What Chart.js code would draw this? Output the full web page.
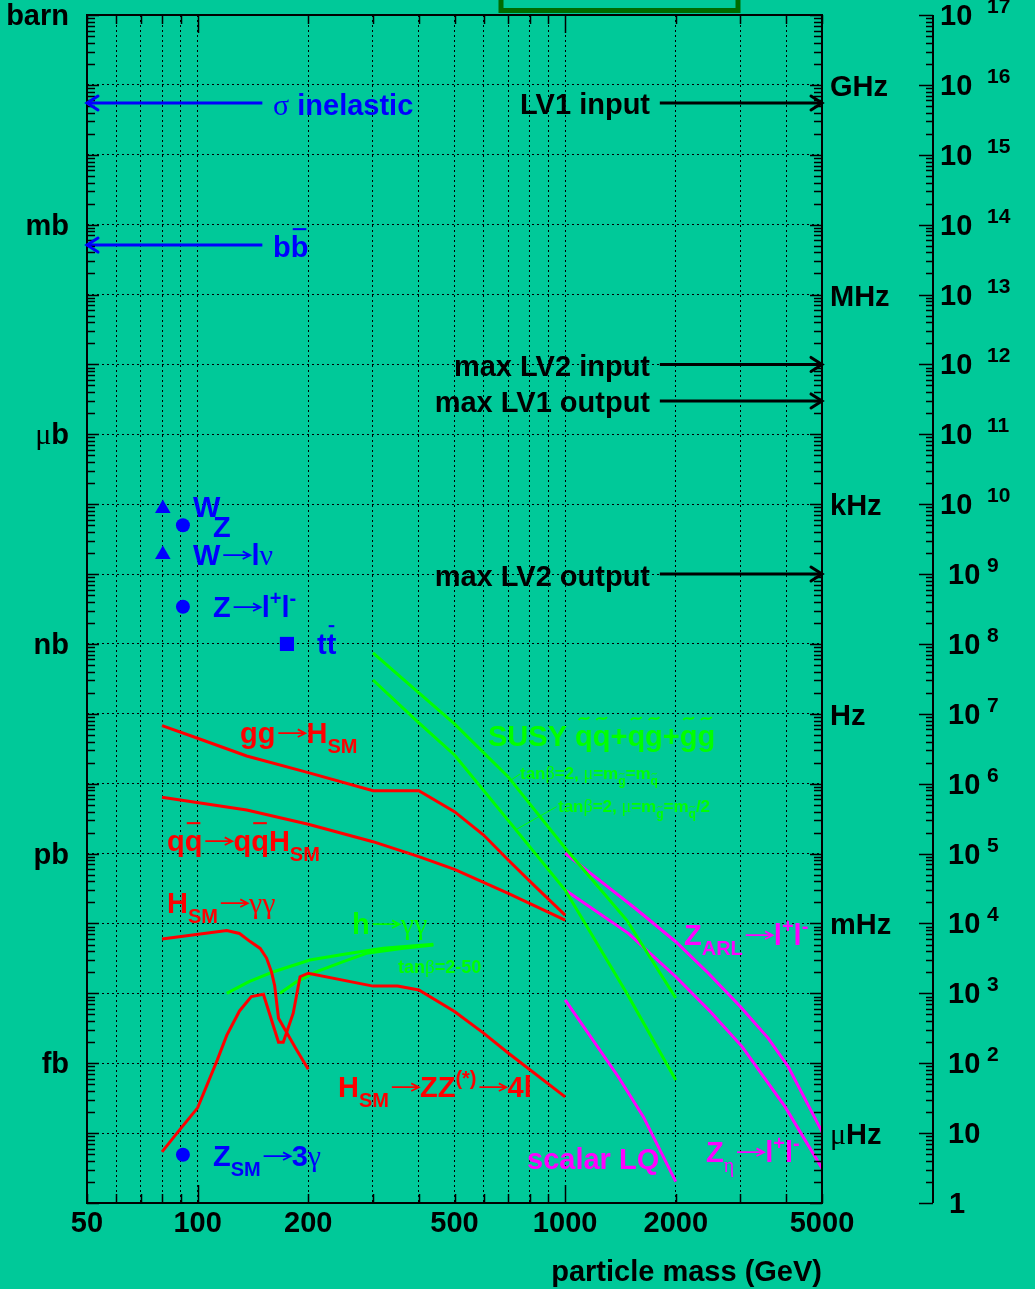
<!DOCTYPE html>
<html>
<head>
<meta charset="utf-8">
<script src="https://cdn.jsdelivr.net/npm/chart.js@4.4.1/dist/chart.umd.min.js"></script>
<style>
  html,body{margin:0;padding:0;background:#00c999;overflow:hidden}
  canvas{display:block}
</style>
</head>
<body>
<canvas id="c" width="1035" height="1289"></canvas>
<script>
/* LHC cross sections / trigger rates vs particle mass */
const BG='#00c999', BLUE='#0000ff', RED='#ff0000', GREEN='#00ff00', MAG='#ff00ff', INK='#000000';
const SANS='"Liberation Sans", Arial, Helvetica, sans-serif';
const SERIF='"Liberation Serif", "DejaVu Serif", "Times New Roman", serif';

// axes
const massMin=50, massMax=5000;
const massLabels=[50,100,200,500,1000,2000,5000];
const massGrid=[60,70,80,90,100,200,300,400,500,600,700,800,900,1000,2000,3000,4000];
const fbMin=1e-2, fbMax=1e15;                 // cross section axis, in fb
const unitNames=['barn','mb','μb','nb','pb','fb'];
const unitValues=[1e15,1e12,1e9,1e6,1e3,1];
const rateFactor=100;                          // right axis value = sigma[fb] * 100
const rateExponents=[0,1,2,3,4,5,6,7,8,9,10,11,12,13,14,15,16,17];
const freqNames=['GHz','MHz','kHz','Hz','mHz','μHz'];
const freqValues=[1e16,1e13,1e10,1e7,1e4,1e1]; // right axis units

// standard model points
const smMass=[80.4,91.2,80.4,91.2,175,91.2];
const smXsec=[8.7e7,5.0e7,1.9e7,3.4e6,1.0e6,0.049];
const smStyle=['triangle','circle','triangle','circle','rect','circle'];
const smRadius=[9,7,9,7,10,7];

// reference arrows (fb)
const beamNames=['σ inelastic','bb̄'];
const beamLevels=[5.5e13,5.1e11];
const trigNames=['LV1 input','max LV2 input','max LV1 output','max LV2 output'];
const trigLevels=[5.5e13,1.0e10,3.0e9,1.0e7];

// Higgs production
const ggH_m=[80,100,136,200,300,400,500,600,700,830,1000];
const ggH_s=[67600,44700,24900,14400,7940,7940,3980,1845,809,336,132];
const qqH_m=[80,136,200,300,400,500,700,1000];
const qqH_s=[6390,4210,2630,1480,903,596,270,112];
// Higgs decays
const Hgg_m=[80,120,130,139,148,154,159,162,166,175,186,200];
const Hgg_s=[60,79,72,55,44,32,20,13,4.4,2.7,1.55,0.82];
const HZZ_m=[80,90,100,113,120,130,140,151,166,171,182,190,200,300,350,400,500,600,700,1000];
const HZZ_s=[0.054,0.117,0.23,1.1,2.5,5.6,9.0,9.7,2.0,2.0,5.2,17.3,19.4,12.7,12.7,11.2,5.5,2.7,1.4,0.33];
// MSSM h -> gamma gamma, tan beta 2..50
const hggA_m=[120,138,161,202,260,320,438];
const hggA_s=[10,14.7,20.4,30,37.4,44.2,50.4];
const hggB_m=[167.5,186,211,249,288,363,438];
const hggB_s=[10,14.7,20.4,28.4,37.4,44.2,49.3];
// SUSY squark/gluino
const susyA_m=[300,400,500,700,1000,1470,2000];
const susyA_s=[7.43e5,1.99e5,7.16e4,1.25e4,1202,112,8.59];
const susyB_m=[300,400,500,700,1000,1470,2000];
const susyB_s=[3.05e5,7.4e4,2.58e4,2990,301,10.1,0.575];
const leadA_m=[754,708], leadA_s=[13770,11040];
const leadB_m=[948,738], leadB_s=[4690,2228];
// exotics
const zarl_m=[1000,1157,1550,2000,2453,3000,3571,4048,5000];
const zarl_s=[1010,551,165,54.8,19.4,6.44,2.27,0.891,0.105];
const zeta_m=[1000,1486,2000,2486,3030,3965,5000];
const zeta_s=[301,72.3,17.3,5.47,1.73,0.239,0.0314];
const lq_m=[1000,1395,1632,2000];
const lq_s=[8.04,0.641,0.172,0.0202];

const pts=(m,s)=>m.map((v,i)=>({x:v,y:s[i]}));
const curve=(m,s,c,w)=>({data:pts(m,s),borderColor:c,borderWidth:w||3,pointRadius:0,fill:false,tension:0});

const datasets=[
  curve(ggH_m,ggH_s,RED), curve(qqH_m,qqH_s,RED),
  curve(Hgg_m,Hgg_s,RED), curve(HZZ_m,HZZ_s,RED),
  curve(hggA_m,hggA_s,GREEN), curve(hggB_m,hggB_s,GREEN),
  curve(susyA_m,susyA_s,GREEN), curve(susyB_m,susyB_s,GREEN),
  curve(leadA_m,leadA_s,GREEN,1), curve(leadB_m,leadB_s,GREEN,1),
  curve(zarl_m,zarl_s,MAG), curve(zeta_m,zeta_s,MAG), curve(lq_m,lq_s,MAG),
  {data:pts(smMass,smXsec),showLine:false,pointStyle:smStyle,pointRadius:smRadius,
   pointBackgroundColor:BLUE,pointBorderColor:BLUE,pointBorderWidth:0}
];
const arrowIdx=[];
beamLevels.forEach(v=>{arrowIdx.push(datasets.length);datasets.push(curve([150,50],[v,v],BLUE));});
trigLevels.forEach(v=>{arrowIdx.push(datasets.length);datasets.push(curve([1810,5000],[v,v],INK));});

// ---- rich text helper (ROOT-like labels)
function segFont(k,size){
  const sm=Math.round(size*0.7);
  if(k==='g')return Math.round(size*1.05)+'px '+SERIF;
  if(k==='gsub')return sm+'px '+SERIF;
  if(k==='sub'||k==='sup'||k==='subt')return 'bold '+sm+'px '+SANS;
  return 'bold '+size+'px '+SANS;
}
function segDy(k,size){
  if(k==='sub'||k==='gsub'||k==='subt')return size*0.33;
  if(k==='sup')return -size*0.42;
  return 0;
}
function tilde(ctx,x0,w,yc,a){
  ctx.beginPath();ctx.moveTo(x0,yc+a);
  ctx.bezierCurveTo(x0+w*0.3,yc-2.5*a,x0+w*0.7,yc+2.5*a,x0+w,yc-a);ctx.stroke();
}
function drawRich(ctx,segs,x,y,size,color,align){
  ctx.save();ctx.fillStyle=color;ctx.strokeStyle=color;ctx.textBaseline='alphabetic';ctx.textAlign='left';
  let total=0;
  const ws=segs.map(([t,k])=>{
    if(k==='arr'){const w=size*1.07;total+=w;return w;}
    ctx.font=segFont(k,size);const w=ctx.measureText(t).width;total+=w;return w;
  });
  let cx=align==='right'?x-total:x;
  segs.forEach(([t,k],i)=>{
    if(k==='arr'){
      const ay=y-size*0.34, x0=cx+size*0.1, x1=cx+ws[i]-size*0.04, h=size*0.26, v=size*0.13;
      ctx.lineWidth=Math.max(1.2,size/17);
      ctx.beginPath();ctx.moveTo(x0,ay);ctx.lineTo(x1,ay);
      ctx.moveTo(x1-h,ay-v);ctx.lineTo(x1,ay);ctx.lineTo(x1-h,ay+v);ctx.stroke();
      cx+=ws[i];return;
    }
    ctx.font=segFont(k,size);const dy=segDy(k,size);
    ctx.fillText(t,cx,y+dy);
    if(k==='bar'){
      ctx.lineWidth=Math.max(1.2,size/14);ctx.beginPath();
      ctx.moveTo(cx+size*0.07,y-size*0.96);ctx.lineTo(cx+ws[i]-size*0.07,y-size*0.96);ctx.stroke();
    }
    if(k==='til'){ctx.lineWidth=Math.max(1.2,size/15);tilde(ctx,cx+ws[i]*0.2,ws[i]*0.6,y-size*0.95,size*0.05);}
    if(k==='subt'){ctx.lineWidth=1;tilde(ctx,cx+ws[i]*0.15,ws[i]*0.7,y+dy-size*0.64,size*0.05);}
    cx+=ws[i];
  });
  ctx.restore();
}

const A=['→','arr'];
const labels=[
  {x:273,y:115,c:BLUE,s:[['σ','g'],[' inelastic','n']]},
  {x:273,y:257,c:BLUE,s:[['b','n'],['b','bar']]},
  {x:650,y:114,c:INK,a:'right',s:[['LV1 input','n']]},
  {x:650,y:376,c:INK,a:'right',s:[['max LV2 input','n']]},
  {x:650,y:412,c:INK,a:'right',s:[['max LV1 output','n']]},
  {x:650,y:586,c:INK,a:'right',s:[['max LV2 output','n']]},
  {x:193,y:517,c:BLUE,s:[['W','n']]},
  {x:213,y:537,c:BLUE,s:[['Z','n']]},
  {x:193,y:565,c:BLUE,s:[['W','n'],A,['l','n'],['ν','g']]},
  {x:213,y:617,c:BLUE,s:[['Z','n'],A,['l','n'],['+','sup'],['l','n'],['-','sup']]},
  {x:317,y:654,c:BLUE,s:[['t','n'],['t','bar']]},
  {x:240,y:743,c:RED,s:[['gg','n'],A,['H','n'],['SM','sub']]},
  {x:167,y:851,c:RED,s:[['q','n'],['q','bar'],A,['q','n'],['q','bar'],['H','n'],['SM','sub']]},
  {x:167,y:913,c:RED,s:[['H','n'],['SM','sub'],A,['γγ','g']]},
  {x:352,y:934,c:GREEN,s:[['h','n'],A,['γγ','g']]},
  {x:398,y:973,c:GREEN,z:18,s:[['tan','n'],['β','g'],['=2-50','n']]},
  {x:488,y:746,c:GREEN,s:[['SUSY ','n'],['q','til'],['q','til'],['+','n'],['q','til'],['g','til'],['+','n'],['g','til'],['g','til']]},
  {x:520,y:779,c:GREEN,z:17,s:[['tan','n'],['β','g'],['=2, ','n'],['μ','g'],['=m','n'],['g','subt'],['=m','n'],['q','subt']]},
  {x:558,y:812,c:GREEN,z:17,s:[['tan','n'],['β','g'],['=2, ','n'],['μ','g'],['=m','n'],['g','subt'],['=m','n'],['q','subt'],['/2','n']]},
  {x:338,y:1097,c:RED,s:[['H','n'],['SM','sub'],A,['ZZ','n'],['(*)','sup'],A,['4l','n']]},
  {x:684,y:945,c:MAG,s:[['Z','n'],['ARL','sub'],A,['l','n'],['+','sup'],['l','n'],['-','sup']]},
  {x:527,y:1169,c:MAG,s:[['scalar LQ','n']]},
  {x:706,y:1162,c:MAG,s:[['Z','n'],['η','gsub'],A,['l','n'],['+','sup'],['l','n'],['-','sup']]},
  {x:213,y:1166,c:BLUE,s:[['Z','n'],['SM','sub'],A,['3','n'],['γ','g']]}
];

function logTicks(lo,hi){
  const out=[];
  for(let e=Math.floor(Math.log10(lo));e<=Math.ceil(Math.log10(hi));e++){
    for(let k=1;k<10;k++){const v=k*Math.pow(10,e);if(v>=lo*0.999&&v<=hi*1.001)out.push({v:v,major:k===1});}
  }
  return out;
}

const decor={
  id:'decor',
  afterDraw(chart){
    const ctx=chart.ctx, xs=chart.scales.x, ys=chart.scales.y, a=chart.chartArea;
    const L=a.left,R=a.right,T=a.top,B=a.bottom, AX=933;
    ctx.save();
    // legend box peeking at the top
    ctx.strokeStyle='#006b00';ctx.lineWidth=5;ctx.strokeRect(501,-20,237,30.5);
    // frame
    ctx.strokeStyle=INK;ctx.lineWidth=2;ctx.strokeRect(L,T,R-L,B-T);
    ctx.beginPath();ctx.moveTo(AX,T);ctx.lineTo(AX,B);ctx.stroke();
    // tick marks
    ctx.lineWidth=1.5;ctx.beginPath();
    logTicks(fbMin,fbMax).forEach(t=>{
      const py=Math.round(ys.getPixelForValue(t.v))+0.5;
      const l=t.major?12:8;
      ctx.moveTo(L,py);ctx.lineTo(L+l,py);
      ctx.moveTo(R,py);ctx.lineTo(R-l,py);
      ctx.moveTo(AX,py);ctx.lineTo(AX-(t.major?14:7),py);
    });
    logTicks(massMin,massMax).forEach(t=>{
      const px=Math.round(xs.getPixelForValue(t.v))+0.5;
      const l=t.major?18:9;
      ctx.moveTo(px,B);ctx.lineTo(px,B-l);
      ctx.moveTo(px,T);ctx.lineTo(px,T+l);
    });
    ctx.stroke();
    // arrow heads
    arrowIdx.forEach(i=>{
      const d=chart.getDatasetMeta(i).data, p=d[d.length-1], q=d[d.length-2];
      const dx=p.x-q.x, dy=p.y-q.y, n=Math.hypot(dx,dy), ux=dx/n, uy=dy/n;
      ctx.strokeStyle=chart.data.datasets[i].borderColor;ctx.lineWidth=3;ctx.lineCap='round';
      ctx.beginPath();
      ctx.moveTo(p.x-ux*11-uy*7,p.y-uy*11+ux*7);ctx.lineTo(p.x,p.y);ctx.lineTo(p.x-ux*11+uy*7,p.y-uy*11-ux*7);
      ctx.stroke();
    });
    ctx.lineCap='butt';
    // x tick labels and title
    ctx.fillStyle=INK;ctx.textBaseline='alphabetic';
    ctx.font='bold 29px '+SANS;ctx.textAlign='center';
    massLabels.forEach(v=>ctx.fillText(String(v),xs.getPixelForValue(v),1232));
    ctx.textAlign='right';ctx.fillText('particle mass (GeV)',R,1281);
    // cross-section unit labels
    unitNames.forEach((u,i)=>{
      const py=ys.getPixelForValue(unitValues[i])+10;
      const segs=u[0]==='μ'?[['μ','g'],[u.slice(1),'n']]:[[u,'n']];
      drawRich(ctx,segs,69,py,29,INK,'right');
    });
    // frequency labels
    freqNames.forEach((f,i)=>{
      const py=ys.getPixelForValue(freqValues[i]/rateFactor)+11;
      const segs=f[0]==='μ'?[['μ','g'],[f.slice(1),'n']]:[[f,'n']];
      drawRich(ctx,segs,830,py,29,INK,'left');
    });
    // right rate axis labels
    rateExponents.forEach(n=>{
      const py=ys.getPixelForValue(Math.pow(10,n)/rateFactor);
      ctx.textAlign='left';ctx.fillStyle=INK;ctx.font='bold 29px '+SANS;
      if(n===0){ctx.fillText('1',949,py+10);return;}
      ctx.fillText('10',n>=10?940:948,py+10);
      if(n>=2){ctx.font='bold 21px '+SANS;ctx.fillText(String(n),987,py-2);}
    });
    // annotations
    labels.forEach(l=>drawRich(ctx,l.s,l.x,l.y,l.z||29,l.c,l.a||'left'));
    ctx.restore();
  }
};

new Chart(document.getElementById('c'),{
  type:'line',
  data:{datasets:datasets},
  options:{
    responsive:false,animation:false,events:[],
    layout:{padding:{left:87,right:213,top:15,bottom:86}},
    plugins:{legend:{display:false},tooltip:{enabled:false}},
    scales:{
      x:{type:'logarithmic',min:massMin,max:massMax,
         afterBuildTicks:s=>{s.ticks=massGrid.map(v=>({value:v}));},
         ticks:{display:false},grid:{color:INK,lineWidth:1,drawTicks:false},
         border:{display:false,dash:[2,3]}},
      y:{type:'logarithmic',min:fbMin,max:fbMax,
         afterBuildTicks:s=>{s.ticks=logTicks(fbMin,fbMax).filter(t=>t.major&&t.v>fbMin*1.5&&t.v<fbMax/1.5).map(t=>({value:t.v}));},
         ticks:{display:false},grid:{color:INK,lineWidth:1,drawTicks:false},
         border:{display:false,dash:[2,3]}}
    }
  },
  plugins:[decor]
});
</script>
</body>
</html>
